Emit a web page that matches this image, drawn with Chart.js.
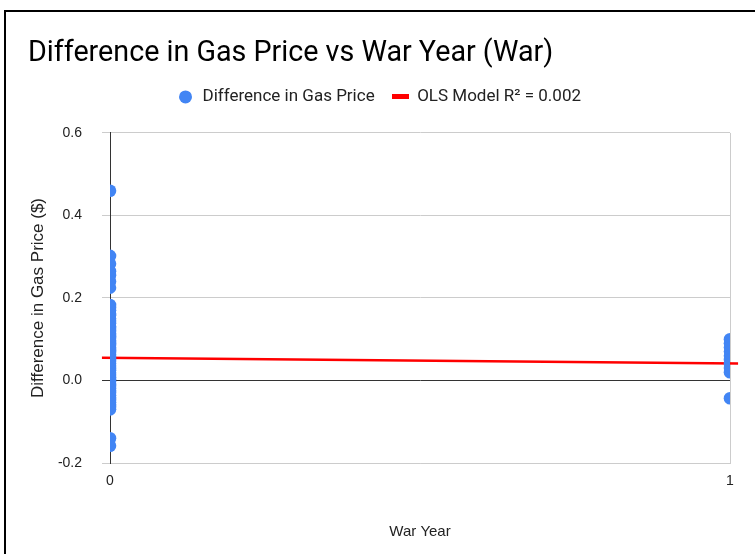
<!DOCTYPE html>
<html><head><meta charset="utf-8">
<script src="https://cdn.jsdelivr.net/npm/chart.js@4/dist/chart.umd.min.js"></script>
<style>
html,body{margin:0;padding:0;background:#fff;}
#wrap{position:relative;width:755px;height:554px;overflow:hidden;background:#fff;}
#frame{position:absolute;left:4px;top:10px;width:800px;height:600px;border-left:2px solid #000;border-top:2px solid #000;}
canvas{position:absolute;left:0;top:0;}
</style></head><body>
<div id="wrap"><div id="frame"></div><canvas id="c" width="755" height="554"></canvas></div>
<script>
// War Year = 0 observations (Difference in Gas Price, $)
const warYear0Values = [
  0.460,
  0.302, 0.283, 0.265, 0.255, 0.240, 0.225,
  0.183, 0.176, 0.170, 0.162, 0.158, 0.150, 0.145, 0.139, 0.131, 0.127,
  0.120, 0.114, 0.108, 0.103, 0.097, 0.091, 0.086, 0.080, 0.074, 0.069,
  0.063, 0.058, 0.052, 0.047, 0.041, 0.036, 0.030, 0.025, 0.019, 0.014,
  0.008, 0.003, -0.002, -0.008, -0.013, -0.019, -0.024, -0.030, -0.036,
  -0.041, -0.047, -0.053, -0.058, -0.064, -0.070,
  -0.140, -0.158
];
// War Year = 1 observations
const warYear1Values = [0.100, 0.090, 0.080, 0.070, 0.060, 0.050, 0.040, 0.030, 0.020, -0.043];
// OLS trendline endpoints
const trendX = [-0.013, 1.013];
const trendY = [0.055, 0.041];
const xTickValues = [0, 1];
const yTickValues = [-0.2, 0, 0.2, 0.4, 0.6];
const seriesNames = ['Difference in Gas Price', 'OLS Model R\u00B2 = 0.002'];

const scatterPts = warYear0Values.map(v => ({x: 0, y: v})).concat(warYear1Values.map(v => ({x: 1, y: v})));
const trendPts = trendX.map((x, i) => ({x: x, y: trendY[i]}));

const narrow = "'Liberation Sans Narrow', 'Roboto', sans-serif";
const arial = "'Liberation Sans', Arial, sans-serif";

// small red dash used as legend marker for the trendline
const dash = document.createElement('canvas');
dash.width = 17; dash.height = 5;
(function(){ const g = dash.getContext('2d'); g.fillStyle = '#FF0000'; g.fillRect(0, 0, 17, 5); })();

const legendGap = {
  id: 'legendGap',
  afterInit(chart) {
    const lg = chart.legend;
    if (lg && !lg._gapWrapped) {
      const orig = lg.fit;
      lg.fit = function() { orig.call(this); this.height += 17.5; };
      lg._gapWrapped = true;
    }
  }
};

new Chart(document.getElementById('c'), {
  type: 'scatter',
  data: {
    datasets: [
      {
        label: seriesNames[0],
        data: scatterPts,
        backgroundColor: '#4285F4',
        borderColor: '#4285F4',
        pointRadius: 6.3,
        pointHoverRadius: 6.3,
        pointBorderWidth: 0,
        pointStyle: 'circle',
        order: 1
      },
      {
        type: 'line',
        label: seriesNames[1],
        data: trendPts,
        borderColor: '#FF0000',
        backgroundColor: '#FF0000',
        borderWidth: 2.5,
        pointRadius: 0,
        fill: false,
        clip: false,
        order: 2
      }
    ]
  },
  plugins: [legendGap],
  options: {
    responsive: false,
    animation: false,
    layout: {padding: {left: 28, right: 25, top: 20, bottom: 0}},
    plugins: {
      tooltip: {enabled: false},
      title: {
        display: true,
        text: 'Difference in Gas Price vs War Year (War)',
        align: 'start',
        color: '#000',
        font: {family: narrow, size: 28.7, weight: 'normal'},
        padding: {top: 17, bottom: 0}
      },
      legend: {
        display: true,
        position: 'top',
        labels: {
          usePointStyle: true,
          boxWidth: 17,
          boxHeight: 9.2,
          padding: 17,
          color: '#222',
          font: {family: narrow, size: 17},
          generateLabels: function(chart) {
            const items = Chart.defaults.plugins.legend.labels.generateLabels(chart);
            items.forEach((it, i) => {
              if (i === 1) { it.pointStyle = dash; it.lineWidth = 0; }
              else { it.pointStyle = 'circle'; it.lineWidth = 0; it.fillStyle = '#4285F4'; }
            });
            return items;
          }
        }
      }
    },
    scales: {
      x: {
        type: 'linear',
        min: 0, max: 1,
        afterBuildTicks: s => { s.ticks = xTickValues.map(v => ({value: v})); },
        afterFit: s => { s.height = 91; },
        ticks: {color: '#222', font: {family: arial, size: 14}, padding: 10,
          callback: v => String(v)},
        grid: {
          color: ctx => (ctx.tick && ctx.tick.value === 1) ? '#cccccc' : 'rgba(0,0,0,0)',
          drawTicks: false, tickLength: 0
        },
        border: {display: true, color: '#cccccc', width: 1},
        title: {display: true, text: 'War Year', color: '#222',
          font: {family: arial, size: 15}, padding: {top: 0, bottom: 13}}
      },
      y: {
        min: -0.2, max: 0.6,
        afterBuildTicks: s => { s.ticks = yTickValues.map(v => ({value: v})); },
        afterFit: s => { s.width = 82; },
        ticks: {color: '#222', font: {family: arial, size: 14}, padding: 20,
          callback: v => Number(v).toFixed(1)},
        grid: {
          color: ctx => (ctx.tick && Math.abs(ctx.tick.value) < 1e-9) ? '#333333' : '#cccccc',
          tickLength: 8
        },
        border: {display: true, color: '#333333', width: 1},
        title: {display: true, text: 'Difference in Gas Price ($)', color: '#222',
          font: {family: arial, size: 17}, padding: {top: 0, bottom: 0}}
      }
    }
  }
});
</script>
</body></html>
